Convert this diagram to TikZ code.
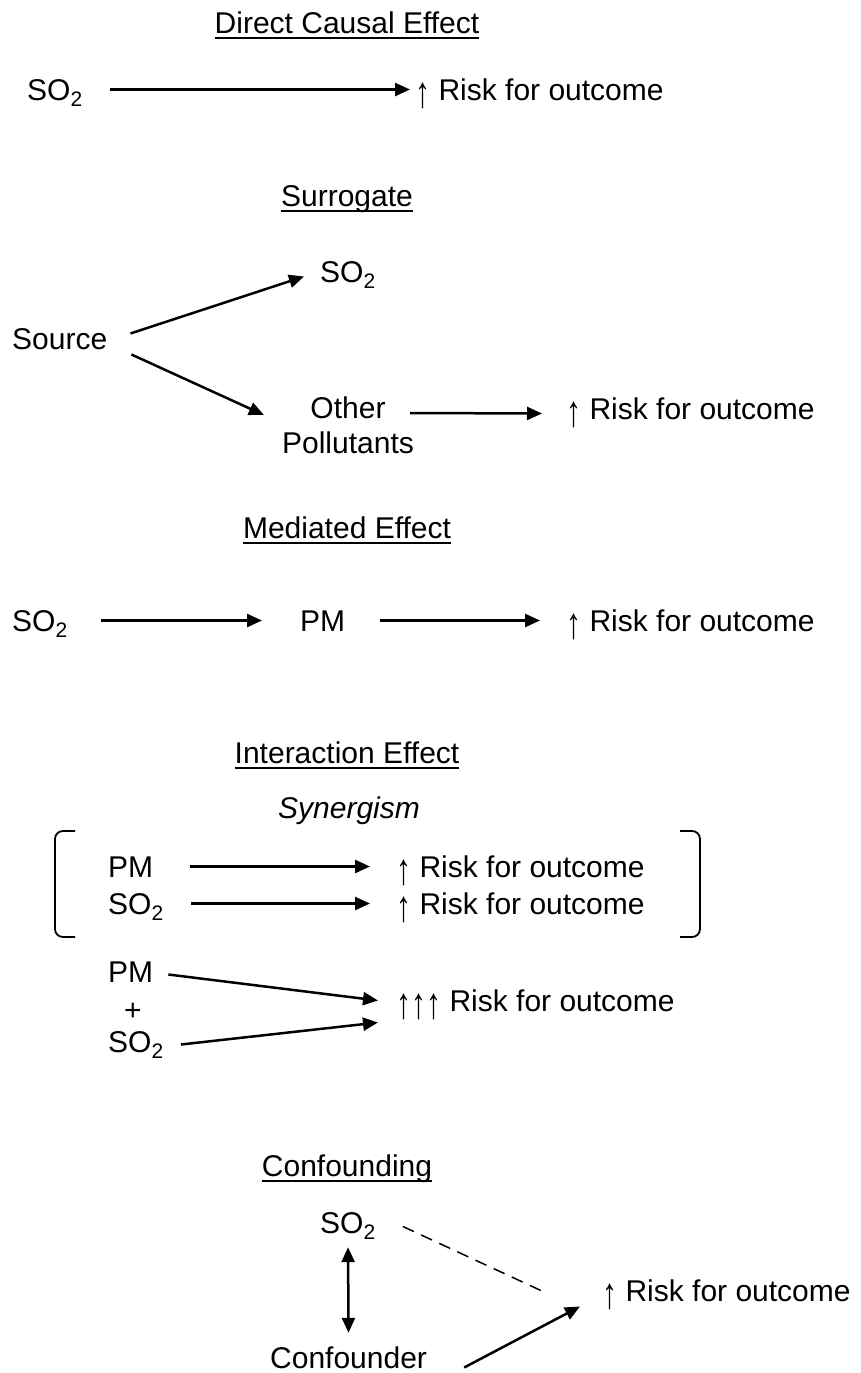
\documentclass[tikz,border=0pt]{standalone}
\usepackage{fontspec}
\usepackage{graphicx}
\setmainfont{Liberation Sans}
\usetikzlibrary{arrows.meta}
\newcommand{\uparr}{\raisebox{-7pt}{\scalebox{1}[1.46]{↑}}}
\begin{document}
\begin{tikzpicture}[x=1pt,y=-1pt,
  every node/.style={font=\fontsize{30}{35}\selectfont, inner sep=0pt},
  lbl/.style={text height=21pt, text depth=0pt, anchor=base west},
  ttl/.style={text height=21pt, text depth=0pt, anchor=base},
  arr/.style={line width=2.5pt, -{Triangle[length=15pt,width=13pt]}},
  dbl/.style={line width=2.5pt, {Triangle[length=15pt,width=13pt]}-{Triangle[length=15pt,width=13pt]}},
  brk/.style={line width=1.8pt, rounded corners=8pt}]
\useasboundingbox (0,0) rectangle (861,1373);
% titles
\node[ttl] (tdir) at (347,33) {Direct Causal Effect};
\node[ttl] (tsur) at (347,206) {Surrogate};
\node[ttl] (tmed) at (347,538) {Mediated Effect};
\node[ttl] (tint) at (347,763) {Interaction Effect};
\node[ttl] (tcon) at (347,1176) {Confounding};
\foreach \t in {tdir,tsur,tmed,tint,tcon}
  \draw[line width=2pt] ([yshift=-5pt]\t.base west) -- ([yshift=-5pt]\t.base east);
% direct causal effect
\node[lbl] (so1) at (27,100) {SO\textsubscript{2}};
\node[lbl] (rk1) at (415,100) {\uparr\ Risk for outcome};
\draw[arr] ([xshift=27pt]so1.east) -- ([xshift=-5pt]rk1.west);
% surrogate
\node[lbl] (src) at (12,349) {Source};
\node[lbl] (so2) at (320,282) {SO\textsubscript{2}};
\node[anchor=north, align=center] (oth) at (348,397) {Other\\Pollutants};
\node[lbl] (rk2) at (566,419) {\uparr\ Risk for outcome};
\draw[arr] ([shift={(23,-5)}]src.east) -- ([shift={(-16,5)}]so2.west);
\draw[arr] ([shift={(24,16)}]src.east) -- ([shift={(-18,18)}]oth.north west);
\draw[arr] ([shift={(-4,16)}]oth.north east) -- ([shift={(-24,5)}]rk2.west);
% mediated effect
\node[lbl] (so3) at (12,631) {SO\textsubscript{2}};
\node[lbl] (pm3) at (300,631) {PM};
\node[lbl] (rk3) at (566,631) {\uparr\ Risk for outcome};
\draw[arr] ([xshift=33pt]so3.east) -- ([xshift=-38pt]pm3.west);
\draw[arr] ([xshift=35pt]pm3.east) -- ([xshift=-26pt]rk3.west);
% interaction effect
\node[anchor=base, font=\fontsize{30}{35}\selectfont\itshape] (syn) at (349,818) {Synergism};
\draw[brk] (75,831) -- (55,831) -- (55,937) -- (75,937);
\draw[brk] (680,831) -- (700,831) -- (700,937) -- (680,937);
\node[lbl] (pm4) at (108,877) {PM};
\node[lbl] (so4) at (108,914) {SO\textsubscript{2}};
\node[lbl] (rk4a) at (396,877) {\uparr\ Risk for outcome};
\node[lbl] (rk4b) at (396,914) {\uparr\ Risk for outcome};
\draw[arr] ([xshift=37pt]pm4.east) -- ([xshift=-26pt]rk4a.west);
\draw[arr] ([xshift=27pt]so4.east) -- ([xshift=-26pt]rk4b.west);
\node[lbl] (pm5) at (108,982) {PM};
\node[ttl] (plus) at (133,1020) {+};
\node[lbl] (so5) at (108,1052) {SO\textsubscript{2}};
\node[lbl] (rk5) at (396,1011) {\uparr\uparr\uparr\ Risk for outcome};
\draw[arr] ([shift={(15,3)}]pm5.east) -- ([shift={(-18,0)}]rk5.west);
\draw[arr] ([shift={(17,3)}]so5.east) -- ([shift={(-18,22)}]rk5.west);
% confounding
\node[lbl] (so6) at (320,1233) {SO\textsubscript{2}};
\node[lbl] (cfd) at (270,1368) {Confounder};
\node[lbl] (rk6) at (602,1301) {\uparr\ Risk for outcome};
\draw[dbl, shorten <=14pt, shorten >=14pt] (so6.south) -- (cfd.north);
\draw[line width=1.5pt, dash pattern=on 12pt off 8pt] ([shift={(27,4)}]so6.east) -- ([shift={(-59,1)}]rk6.west);
\draw[arr] ([shift={(37,10)}]cfd.east) -- ([shift={(-22,16)}]rk6.west);
\end{tikzpicture}
\end{document}
